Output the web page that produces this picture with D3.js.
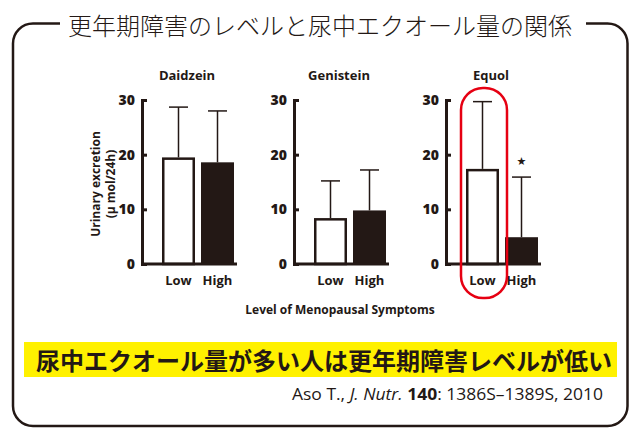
<!DOCTYPE html>
<html>
<head>
<meta charset="utf-8">
<script src="https://cdn.jsdelivr.net/npm/d3@7"></script>
<style>
  html, body { margin: 0; padding: 0; background: #fff; }
  svg { display: block; }
</style>
</head>
<body>
<svg id="chart" width="636" height="428"></svg>
<script>
// ---- data ----
const compounds = ["Daidzein", "Genistein", "Equol"];
const levels = ["Low", "High"];
const daidzeinMean = [19.5, 18.6];
const daidzeinSD = [9.2, 9.4];
const genisteinMean = [8.4, 9.8];
const genisteinSD = [6.8, 7.4];
const equolMean = [17.4, 4.9];
const equolSD = [12.3, 11.0];
const yTicks = [0, 10, 20, 30];
const significant = ["Equol|High"];

const titleText = "更年期障害のレベルと尿中エクオール量の関係";
const conclusionText = "尿中エクオール量が多い人は更年期障害レベルが低い";
const yLabel1 = "Urinary excretion";
const yLabel2 = "(μ mol/24h)";
const xLabel = "Level of Menopausal Symptoms";

const means = { Daidzein: daidzeinMean, Genistein: genisteinMean, Equol: equolMean };
const sds = { Daidzein: daidzeinSD, Genistein: genisteinSD, Equol: equolSD };

const INK = "#231815";
const RED = "#e60012";
const LATIN = "'Open Sans', 'Noto Sans', sans-serif";
const CJK = "'Noto Sans CJK JP', 'Noto Sans CJK SC', sans-serif";

const svg = d3.select("#chart");

// ---- frame ----
svg.append("path")
  .attr("d", "M60,23.5 H33 A20,20 0 0 0 13,43.5 V406 A20,20 0 0 0 33,426 H607.5 A20,20 0 0 0 627.5,406 V43.5 A20,20 0 0 0 607.5,23.5 H586")
  .attr("fill", "none").attr("stroke", INK).attr("stroke-width", 2.5);

svg.append("text")
  .attr("x", 68).attr("y", 24)
  .attr("dominant-baseline", "central")
  .attr("font-family", CJK).attr("font-weight", 300).attr("font-size", 24)
  .attr("fill", INK)
  .text(titleText);

// ---- scales ----
const panelX = d3.scalePoint().domain(compounds).range([142, 446]);
const y = d3.scaleLinear().domain([0, 30]).range([264, 100]);

compounds.forEach(c => {
  const ax = panelX(c);
  const x = d3.scaleBand().domain(levels).range([ax + 20, ax + 92]).paddingInner(0.154).paddingOuter(0);
  const g = svg.append("g");

  // panel title
  g.append("text")
    .attr("x", ax + 45).attr("y", 75)
    .attr("text-anchor", "middle").attr("dominant-baseline", "central")
    .attr("font-family", LATIN).attr("font-weight", 700).attr("font-size", 13)
    .attr("fill", INK).text(c);

  // error bars (upper only)
  levels.forEach((lv, i) => {
    const cx = x(lv) + x.bandwidth() / 2;
    const top = means[c][i] + sds[c][i];
    g.append("line")
      .attr("x1", cx).attr("x2", cx)
      .attr("y1", y(means[c][i])).attr("y2", y(top))
      .attr("stroke", INK).attr("stroke-width", 1.5);
    g.append("line")
      .attr("x1", cx - 9.5).attr("x2", cx + 9.5)
      .attr("y1", y(top)).attr("y2", y(top))
      .attr("stroke", INK).attr("stroke-width", 1.5);
    if (significant.includes(c + "|" + lv)) {
      g.append("text")
        .attr("x", cx).attr("y", y(top) - 16)
        .attr("text-anchor", "middle").attr("dominant-baseline", "central")
        .attr("font-family", "'DejaVu Sans', sans-serif").attr("font-size", 11)
        .attr("fill", INK).text("★");
    }
  });

  // bars
  levels.forEach((lv, i) => {
    const filled = lv === "High";
    g.append("rect")
      .attr("x", x(lv) + (filled ? 0 : 1.25))
      .attr("width", x.bandwidth() - (filled ? 0 : 2.5))
      .attr("y", y(means[c][i]) + (filled ? 0 : 1.25))
      .attr("height", y(0) - y(means[c][i]) - (filled ? 0 : 1.25))
      .attr("fill", filled ? INK : "#fff")
      .attr("stroke", filled ? "none" : INK)
      .attr("stroke-width", 2.5);
  });

  // y axis
  const axis = d3.axisLeft(y).tickValues(yTicks)
    .tickSizeInner(-5).tickSizeOuter(-5).tickPadding(7);
  const ag = g.append("g").attr("transform", `translate(${ax},0)`).call(axis);
  ag.select(".domain").attr("stroke", INK).attr("stroke-width", 3);
  ag.selectAll(".tick line").attr("stroke", INK).attr("stroke-width", 3);
  ag.selectAll(".tick text")
    .attr("font-family", LATIN).attr("font-weight", 800).attr("font-size", 14)
    .attr("fill", INK);

  // baseline
  g.append("line")
    .attr("x1", ax).attr("x2", ax + 95)
    .attr("y1", y(0)).attr("y2", y(0))
    .attr("stroke", INK).attr("stroke-width", 3);

  // category labels
  levels.forEach(lv => {
    g.append("text")
      .attr("x", x(lv) + x.bandwidth() / 2).attr("y", 280)
      .attr("text-anchor", "middle").attr("dominant-baseline", "central")
      .attr("font-family", LATIN).attr("font-weight", 700).attr("font-size", 13)
      .attr("fill", INK).text(lv);
  });

  // highlight for Equol Low
  if (c === "Equol") {
    g.append("rect")
      .attr("x", x("Low") - 5).attr("width", x.bandwidth() + 13)
      .attr("y", y(30) - 12).attr("height", 298 - (y(30) - 12))
      .attr("rx", 22).attr("ry", 22)
      .attr("fill", "none").attr("stroke", RED).attr("stroke-width", 2.5);
  }
});

// y axis title
const yl = svg.append("text")
  .attr("transform", "translate(102,184) rotate(-90)")
  .attr("text-anchor", "middle")
  .attr("font-family", LATIN).attr("font-weight", 700).attr("font-size", 12)
  .attr("fill", INK);
yl.append("tspan").attr("x", 0).attr("y", -7).attr("dominant-baseline", "central").text(yLabel1);
yl.append("tspan").attr("x", 0).attr("y", 8).attr("dominant-baseline", "central").text(yLabel2);

// x axis title
svg.append("text")
  .attr("x", 340).attr("y", 309)
  .attr("text-anchor", "middle").attr("dominant-baseline", "central")
  .attr("font-family", LATIN).attr("font-weight", 700).attr("font-size", 12)
  .attr("fill", INK).text(xLabel);

// conclusion band
svg.append("rect")
  .attr("x", 24).attr("y", 342).attr("width", 593).attr("height", 35)
  .attr("fill", "#fff100");
svg.append("text")
  .attr("x", 36).attr("y", 359.5)
  .attr("dominant-baseline", "central")
  .attr("font-family", CJK).attr("font-weight", 700).attr("font-size", 24)
  .attr("fill", INK).text(conclusionText);

// citation
const cit = svg.append("text")
  .attr("x", 603).attr("y", 393)
  .attr("text-anchor", "end").attr("dominant-baseline", "central")
  .attr("font-family", LATIN).attr("font-weight", 400).attr("font-size", 16.5)
  .attr("fill", INK)
  .attr("textLength", 311).attr("lengthAdjust", "spacingAndGlyphs");
cit.append("tspan").text("Aso T., ");
cit.append("tspan").attr("font-style", "italic").text("J. Nutr.");
cit.append("tspan").attr("font-weight", 700).text(" 140");
cit.append("tspan").text(": 1386S–1389S, 2010");
</script>
</body>
</html>
